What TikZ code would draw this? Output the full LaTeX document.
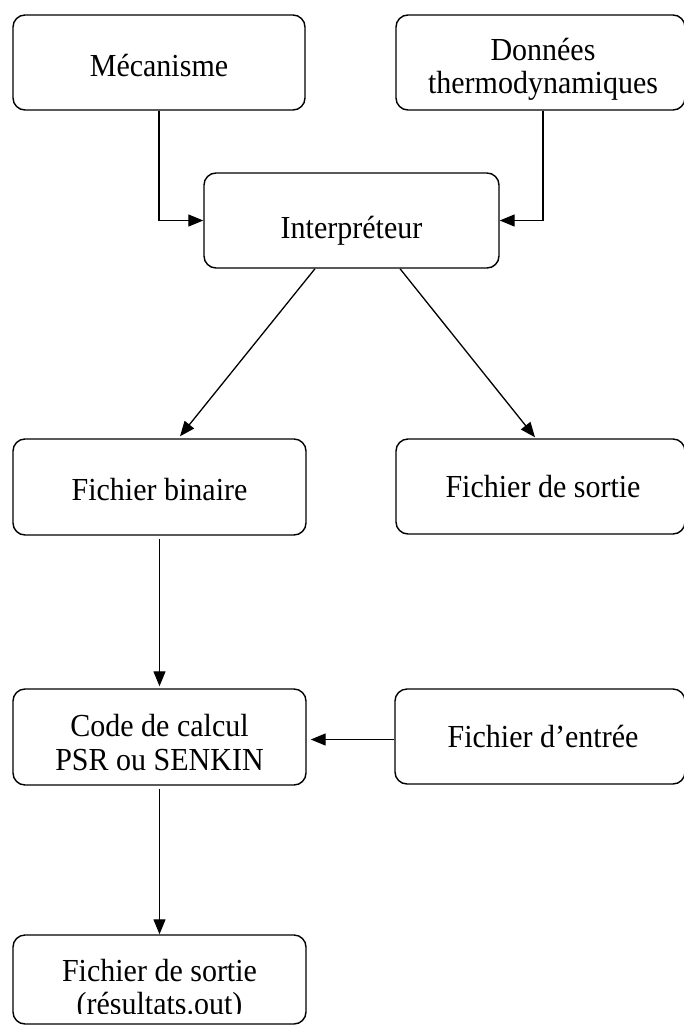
\documentclass[tikz,border=0pt]{standalone}
\usepackage{fontspec}
\setmainfont{Liberation Serif}
\usetikzlibrary{arrows.meta}
\begin{document}
\begin{tikzpicture}[x=1pt,y=-1pt,
  box/.style={draw, line width=1.4pt, rounded corners=12pt, inner sep=0pt},
  txt/.style={anchor=base, inner sep=0pt, font=\fontsize{30}{34}\selectfont},
  arr/.style={line width=1.3pt, -{Triangle[length=15pt,width=12pt]}}]
\useasboundingbox (0,0) rectangle (684,1026);
% boxes
\node[box, minimum width=292pt, minimum height=95pt] (mec) at (159,62.5) {};
\node[box, minimum width=289pt, minimum height=95pt] (don) at (540.5,62.5) {};
\node[box, minimum width=295pt, minimum height=95pt] (interp) at (351.5,220.5) {};
\node[box, minimum width=293pt, minimum height=96pt] (bin) at (159.5,487) {};
\node[box, minimum width=289pt, minimum height=95pt] (sortie) at (540.5,486.5) {};
\node[box, minimum width=293pt, minimum height=96pt] (code) at (159.5,737) {};
\node[box, minimum width=290pt, minimum height=95pt] (entree) at (540,736.5) {};
\node[box, minimum width=293pt, minimum height=89pt] (res) at (159.5,979.5) {};
% texts
\begin{scope}[every node/.append style={yscale=1.07, transform shape}]
\node[txt] (mecT) at (159,76) {Mécanisme};
\node[txt] (donT1) at (543,60) {Données};
\node[txt] (donT2) at (543,93) {thermodynamiques};
\node[txt] (interpT) at (351.5,238) {Interpréteur};
\node[txt] (binT) at (159.5,500) {Fichier binaire};
\node[txt] (sortT) at (543,497) {Fichier de sortie};
\node[txt] (codeT1) at (159.5,736) {Code de calcul};
\node[txt] (codeT2) at (159.5,770) {PSR ou SENKIN};
\node[txt] (entT) at (543,747) {Fichier d’entrée};
\begin{scope}
\clip (0,935) rectangle (684,1013.5);
\node[txt] (resT1) at (159.5,981) {Fichier de sortie};
\node[txt] (resT2) at (159.5,1014) {(résultats.out)};
\end{scope}
\end{scope}
% connectors
\draw[arr] (mec.south) |- (interp.west);
\draw[arr] ([xshift=2.5pt]don.south) |- (interp.east);
\draw[arr] ([xshift=-36.5pt]interp.south) -- ([xshift=20.5pt,yshift=2pt]bin.north);
\draw[arr] ([xshift=48.5pt]interp.south) -- ([xshift=-5.5pt,yshift=1pt]sortie.north);
\draw[arr, shorten <=3pt, shorten >=2pt] (bin.south) -- (code.north);
\draw[arr, shorten >=4pt] ([yshift=-3pt]entree.west) -- ([yshift=-3pt]entree.west -| code.east);
\draw[arr, shorten <=3pt] (code.south) -- (res.north);
\end{tikzpicture}
\end{document}
